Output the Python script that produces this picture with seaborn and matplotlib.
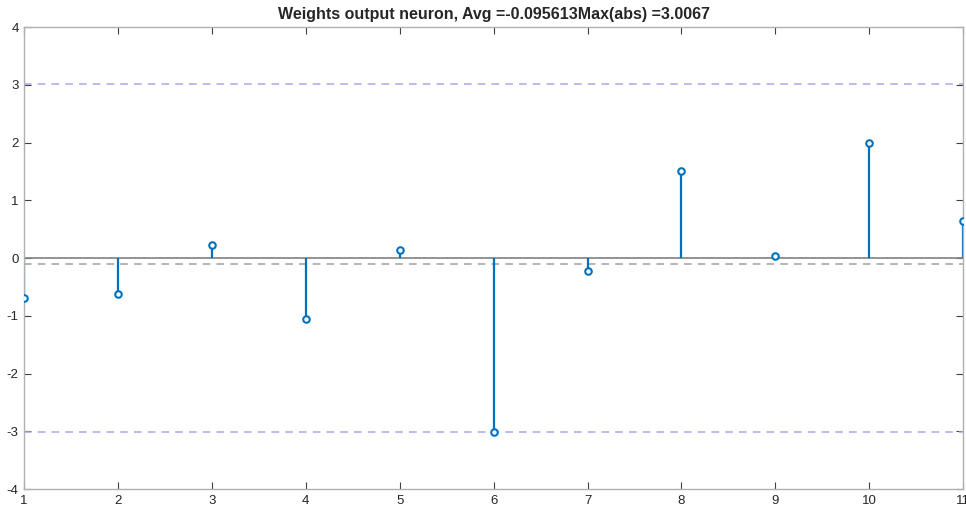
import numpy as np
import pandas as pd
import matplotlib
matplotlib.use("Agg")
import matplotlib.pyplot as plt
import seaborn as sns

# stem values
neuron = [1, 2, 3, 4, 5, 6, 7, 8, 9, 10, 11]
weights = [-0.69, -0.62, 0.22, -1.05, 0.14, -3.0067, -0.225, 1.50, 0.03, 2.00, 0.65]
avg_w = -0.095613
max_abs = 3.0067

sns.set_theme(style="white")
plt.rcParams['font.family'] = ['Liberation Sans', 'DejaVu Sans']
plt.rcParams['axes.unicode_minus'] = False

df = pd.DataFrame({'neuron': neuron, 'weight': weights})

fig = plt.figure(figsize=(9.66, 5.11), dpi=100)
ax = fig.add_axes([0.025, 0.043, 0.972, 0.904])

blue = '#0072BD'
# reference lines
ax.axhline(max_abs, color='#a8a8f0', ls=(0, (5, 4)), lw=1.1, zorder=1)
ax.axhline(-max_abs, color='#a8a8f0', ls=(0, (5, 4)), lw=1.1, zorder=1)
ax.axhline(avg_w, color='#a0a0a0', ls=(0, (5, 4)), lw=1.1, zorder=1)
ax.axhline(0, color='#808080', lw=1.2, zorder=1)

# stems
ax.vlines(df['neuron'], 0, df['weight'], color=blue, lw=1.6, zorder=2)
sns.scatterplot(data=df, x='neuron', y='weight', ax=ax, marker='o', s=22,
                facecolor='white', edgecolor=blue, linewidth=1.5, zorder=3,
                legend=False)

ax.set_xlim(1, 11)
ax.set_ylim(-4, 4)
ax.set_xticks(range(1, 12))
ax.set_yticks(range(-4, 5))
ax.set_xlabel('')
ax.set_ylabel('')
ax.tick_params(direction='in', length=5, width=0.8, color='#404040',
               labelsize=9.5, labelcolor='#262626', top=True, right=True,
               bottom=True, left=True, pad=4)
for s in ax.spines.values():
    s.set_color('#b0b0b0')
    s.set_linewidth(1.0)
ax.set_title('Weights output neuron, Avg =-0.095613Max(abs) =3.0067',
             fontsize=11.5, fontweight='bold', pad=6)

fig.savefig('out.png', dpi=100)
